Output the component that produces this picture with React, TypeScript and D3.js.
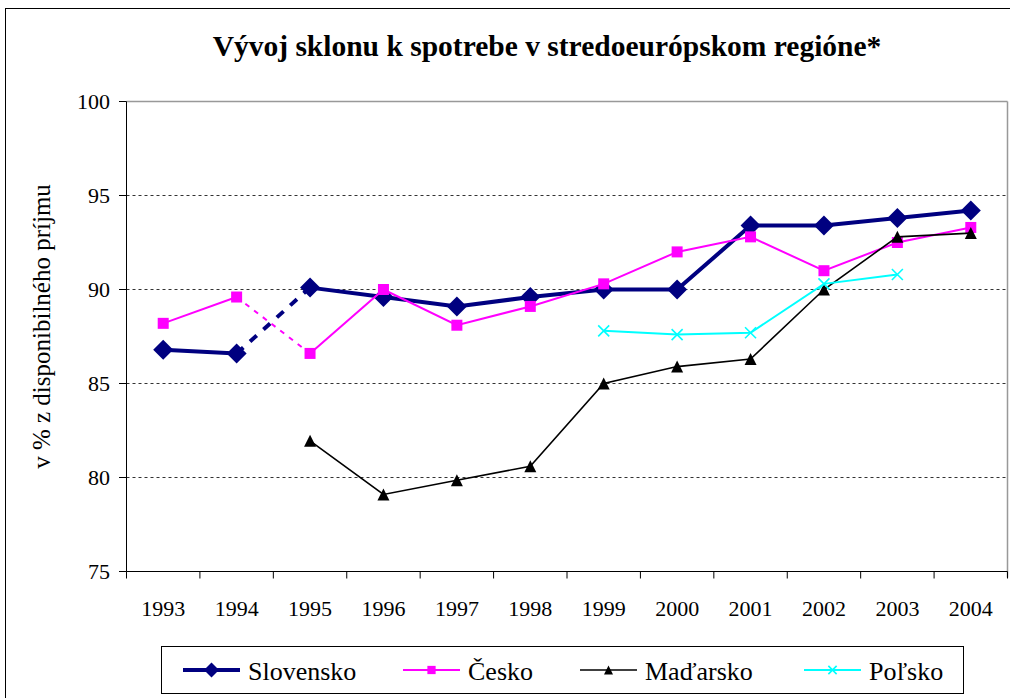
import React from 'react';
import { scaleBand, scaleLinear, line } from 'd3';

const years = ['1993', '1994', '1995', '1996', '1997', '1998', '1999', '2000', '2001', '2002', '2003', '2004'];
const yTicks = [75, 80, 85, 90, 95, 100];

const slovensko = [86.8, 86.6, 90.1, 89.6, 89.1, 89.6, 90.0, 90.0, 93.4, 93.4, 93.8, 94.2];
const cesko = [88.2, 89.6, 86.6, 90.0, 88.1, 89.1, 90.3, 92.0, 92.8, 91.0, 92.5, 93.3];
const madarsko = [null, null, 81.95, 79.1, 79.85, 80.6, 85.0, 85.9, 86.3, 90.0, 92.8, 93.0];
const polsko = [null, null, null, null, null, null, 87.8, 87.6, 87.7, 90.3, 90.8, null];

// segment that starts at this year is drawn broken (change of methodology)
const brokenFrom = '1994';

const title = 'Vývoj sklonu k spotrebe v stredoeurópskom regióne*';
const yTitle = 'v % z disponibilného príjmu';

type Pt = { year: string; value: number };

const series = [
  { name: 'Slovensko', values: slovensko, color: '#000080', width: 4, marker: 'diamond', dash: '9,9', legendX: 183 },
  { name: 'Česko', values: cesko, color: '#FF00FF', width: 2, marker: 'square', dash: '5,6', legendX: 403 },
  { name: 'Maďarsko', values: madarsko, color: '#000000', width: 1.6, marker: 'triangle', dash: '5,5', legendX: 580 },
  { name: 'Poľsko', values: polsko, color: '#00FFFF', width: 2, marker: 'cross', dash: '5,5', legendX: 804 },
];

const FONT = "'Liberation Serif', 'Times New Roman', 'DejaVu Serif', serif";

function Marker({ kind, x, y, color, s = 1 }: { kind: string; x: number; y: number; color: string; s?: number }) {
  if (kind === 'diamond') {
    const r = 10 * s;
    return <path d={`M${x},${y - r}L${x + r},${y}L${x},${y + r}L${x - r},${y}Z`} fill={color} />;
  }
  if (kind === 'square') {
    const r = 5.5 * s;
    return <rect x={x - r} y={y - r} width={2 * r} height={2 * r} fill={color} />;
  }
  if (kind === 'triangle') {
    const r = 6 * s;
    return <path d={`M${x},${y - r}L${x + r},${y + r}L${x - r},${y + r}Z`} fill={color} />;
  }
  const r = 5.5 * s;
  return (
    <path
      d={`M${x - r},${y - r}L${x + r},${y + r}M${x - r},${y + r}L${x + r},${y - r}`}
      stroke={color}
      strokeWidth={1.6}
      fill="none"
    />
  );
}

export default function App() {
  const W = 1010;
  const H = 698;
  const x = scaleBand<string>().domain(years).range([126.5, 1007.5]).padding(0);
  const y = scaleLinear().domain([75, 100]).range([571.5, 101.5]);
  const cx = (yr: string) => (x(yr) ?? 0) + x.bandwidth() / 2;
  const lineGen = line<Pt>().x((d) => cx(d.year)).y((d) => y(d.value));

  const breakIdx = years.indexOf(brokenFrom);

  return (
    <svg
      width={W}
      height={H}
      style={{ position: 'absolute', left: 0, top: 0, background: '#fff', fontFamily: FONT }}
    >
      <rect x={5.5} y={8.5} width={1200} height={800} fill="#fff" stroke="#000" strokeWidth={1} />

      <text x={547} y={56} textAnchor="middle" fontSize={29.5} fontWeight="bold" style={{ fontFamily: FONT }}>
        {title}
      </text>

      <text
        transform={`translate(50,${y(87.5) - 10}) rotate(-90)`}
        textAnchor="middle"
        fontSize={25}
        style={{ fontFamily: FONT }}
      >
        {yTitle}
      </text>

      {/* grid */}
      {yTicks.filter((t) => t > 75 && t < 100).map((t) => (
        <line key={t} x1={126.5} x2={1007.5} y1={y(t)} y2={y(t)} stroke="#333" strokeDasharray="3,3" />
      ))}
      <line x1={126.5} x2={1007.5} y1={y(100)} y2={y(100)} stroke="#999" strokeWidth={1.5} />
      <line x1={1007.5} x2={1007.5} y1={y(100)} y2={y(75) + 6} stroke="#999" strokeWidth={1.5} />

      {/* axes */}
      <line x1={126.5} x2={126.5} y1={y(100)} y2={y(75)} stroke="#000" />
      <line x1={126.5} x2={1007.5} y1={y(75)} y2={y(75)} stroke="#000" />
      {yTicks.map((t) => (
        <g key={t}>
          <line x1={119} x2={126.5} y1={y(t)} y2={y(t)} stroke="#000" />
          <text x={110} y={y(t)} dy="0.35em" textAnchor="end" fontSize={22} style={{ fontFamily: FONT }}>
            {t}
          </text>
        </g>
      ))}
      {years.map((yr) => (
        <line key={yr} x1={x(yr)} x2={x(yr)} y1={y(75)} y2={y(75) + 7} stroke="#000" />
      ))}
      <line x1={1007.5} x2={1007.5} y1={y(75)} y2={y(75) + 7} stroke="#000" />
      {years.map((yr) => (
        <text key={yr} x={cx(yr)} y={616} textAnchor="middle" fontSize={22} style={{ fontFamily: FONT }}>
          {yr}
        </text>
      ))}

      {/* series */}
      {series.map((s) => {
        const pts: (Pt | null)[] = s.values.map((v, i) => (v == null ? null : { year: years[i], value: v }));
        const solidA = pts.slice(0, breakIdx + 1).filter(Boolean) as Pt[];
        const solidB = pts.slice(breakIdx + 1).filter(Boolean) as Pt[];
        const broken = [pts[breakIdx], pts[breakIdx + 1]].filter(Boolean) as Pt[];
        return (
          <g key={s.name}>
            {solidA.length > 1 && <path d={lineGen(solidA) ?? ''} fill="none" stroke={s.color} strokeWidth={s.width} />}
            {solidB.length > 1 && <path d={lineGen(solidB) ?? ''} fill="none" stroke={s.color} strokeWidth={s.width} />}
            {broken.length > 1 && (
              <path d={lineGen(broken) ?? ''} fill="none" stroke={s.color} strokeWidth={s.width} strokeDasharray={s.dash} />
            )}
            {(pts.filter(Boolean) as Pt[]).map((p) => (
              <Marker key={p.year} kind={s.marker} x={cx(p.year)} y={y(p.value)} color={s.color} />
            ))}
          </g>
        );
      })}

      {/* legend */}
      <rect x={161.5} y={646.5} width={802} height={47} fill="#fff" stroke="#000" />
      {series.map((s) => (
        <g key={s.name}>
          <line x1={s.legendX} x2={s.legendX + 57} y1={670} y2={670} stroke={s.color} strokeWidth={s.width} />
          <Marker kind={s.marker} x={s.legendX + 28.5} y={670} color={s.color} s={0.75} />
          <text x={s.legendX + 65} y={680} fontSize={26} style={{ fontFamily: FONT }}>
            {s.name}
          </text>
        </g>
      ))}
    </svg>
  );
}
